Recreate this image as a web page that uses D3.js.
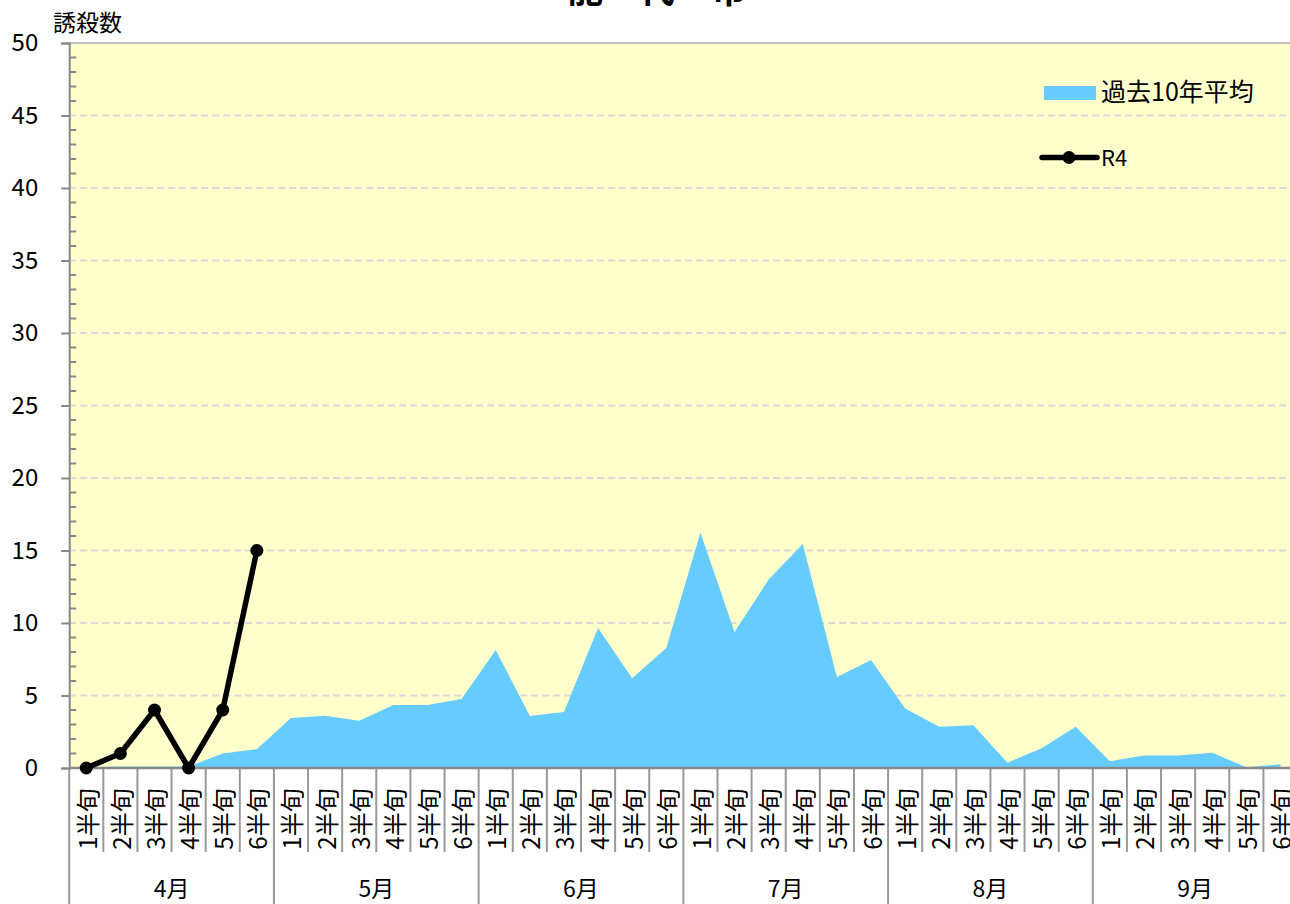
<!DOCTYPE html>
<html><head><meta charset="utf-8">
<script src="https://cdn.jsdelivr.net/npm/d3@7/dist/d3.min.js"></script>
<style>
html,body{margin:0;padding:0;background:#fff;overflow:hidden;}
text{font-family:"Noto Sans CJK JP","Noto Sans",sans-serif;fill:#000;}
</style></head>
<body><svg id="c" width="1290" height="904"></svg>
<script>
const months = ["4月","5月","6月","7月","8月","9月"];
const halfDecades = ["1半旬","2半旬","3半旬","4半旬","5半旬","6半旬"];
const avg10 = [0.05,0.1,0.1,0.1,1.0,1.3, 3.45,3.6,3.26,4.34,4.34,4.76, 8.14,3.59,3.86,9.66,6.19,8.28, 16.25,9.38,13.0,15.45,6.28,7.45, 4.1,2.85,2.94,0.37,1.36,2.85, 0.46,0.87,0.87,1.06,0.05,0.26];
const r4 = [0,1,4,0,4,15];
const yTicks = [0,5,10,15,20,25,30,35,40,45,50];
const seriesNames = ["過去10年平均","R4"];
const titleText = "能　代　市";
const yLabel = "誘殺数";

const cats = [];
months.forEach(m => halfDecades.forEach(h => cats.push(m + h)));

const svg = d3.select("#c");
const L = 69.2, T = 43, B = 768, catW = 34.12;
const R = L + cats.length * catW;

const x = d3.scaleBand().domain(cats).range([L, R]).padding(0);
const y = d3.scaleLinear().domain([0, 50]).range([B, T]);
const cx = i => x(cats[i]) + x.bandwidth() / 2;

// plot background
svg.append("rect").attr("x", L).attr("y", T).attr("width", R - L).attr("height", B - T).attr("fill", "#FFFFCC");

// grid
svg.append("g").selectAll("line").data(yTicks.filter(d => d > 0 && d < 50)).join("line")
  .attr("x1", L).attr("x2", R).attr("y1", d => y(d)).attr("y2", d => y(d))
  .attr("stroke", "#d9d9d9").attr("stroke-width", 2).attr("stroke-dasharray", "7,4");
svg.append("line").attr("x1", L).attr("x2", R).attr("y1", y(50)).attr("y2", y(50))
  .attr("stroke", "#c0c0c0").attr("stroke-width", 2);

// area
const area = d3.area().x((d, i) => cx(i)).y0(y(0)).y1(d => y(d));
svg.append("path").datum(avg10).attr("d", area).attr("fill", "#66CCFF");

// y axis
const yAxis = d3.axisLeft(y).tickValues(yTicks).tickSize(8).tickPadding(23).tickFormat(d3.format("d"));
const gy = svg.append("g").attr("transform", `translate(${L},0)`).call(yAxis);
gy.select(".domain").attr("stroke", "#888").attr("stroke-width", 2);
gy.selectAll(".tick line").attr("stroke", "#888").attr("stroke-width", 2);
gy.selectAll(".tick text").attr("font-size", 24).attr("font-family", '"Noto Sans","Noto Sans CJK JP",sans-serif');
// minor ticks
const minor = d3.range(0, 51).filter(v => v % 5 !== 0);
svg.append("g").selectAll("line").data(minor).join("line")
  .attr("x1", L).attr("x2", L + 7).attr("y1", d => y(d)).attr("y2", d => y(d))
  .attr("stroke", "#888").attr("stroke-width", 2);

// x axis: category separators
const sepY2 = 852;
svg.append("g").selectAll("line").data(d3.range(cats.length + 1)).join("line")
  .attr("x1", i => L + i * catW).attr("x2", i => L + i * catW)
  .attr("y1", B).attr("y2", i => (i % 6 === 0) ? 904 : sepY2)
  .attr("stroke", "#999").attr("stroke-width", 2);
svg.append("line").attr("x1", L).attr("x2", R).attr("y1", B).attr("y2", B)
  .attr("stroke", "#888").attr("stroke-width", 2.5);

// category labels (rotated)
svg.append("g").selectAll("text").data(cats).join("text")
  .attr("transform", (d, i) => `translate(${cx(i)},819) rotate(-90)`)
  .attr("text-anchor", "middle").attr("dominant-baseline", "central")
  .attr("font-size", 24)
  .text((d, i) => halfDecades[i % 6]);

// month labels
svg.append("g").selectAll("text").data(months).join("text")
  .attr("x", (d, i) => L + (i * 6 + 3) * catW).attr("y", 897)
  .attr("text-anchor", "middle").attr("font-size", 23)
  .text(d => d);

// R4 line
const line = d3.line().x((d, i) => cx(i)).y(d => y(d));
svg.append("path").datum(r4).attr("d", line).attr("fill", "none")
  .attr("stroke", "#000").attr("stroke-width", 5.5).attr("stroke-linejoin", "round");
svg.append("g").selectAll("circle").data(r4).join("circle")
  .attr("cx", (d, i) => cx(i)).attr("cy", d => y(d)).attr("r", 6.5).attr("fill", "#000");

// legend
svg.append("rect").attr("x", 1044).attr("y", 86).attr("width", 52).attr("height", 14).attr("fill", "#66CCFF");
svg.append("text").attr("x", 1101).attr("y", 101).attr("font-size", 25).text(seriesNames[0]);
svg.append("line").attr("x1", 1042).attr("x2", 1097).attr("y1", 157.5).attr("y2", 157.5)
  .attr("stroke", "#000").attr("stroke-width", 5.5).attr("stroke-linecap", "round");
svg.append("circle").attr("cx", 1069).attr("cy", 157.5).attr("r", 6.5).attr("fill", "#000");
svg.append("text").attr("x", 1101).attr("y", 166).attr("font-size", 22).text(seriesNames[1]);

// y label
svg.append("text").attr("x", 53).attr("y", 31).attr("font-size", 23).text(yLabel);

// title (cut off at top)
svg.append("text").attr("x", 657).attr("y", 3).attr("text-anchor", "middle")
  .attr("font-size", 36).attr("font-weight", "bold").text(titleText);
</script>
</body></html>
